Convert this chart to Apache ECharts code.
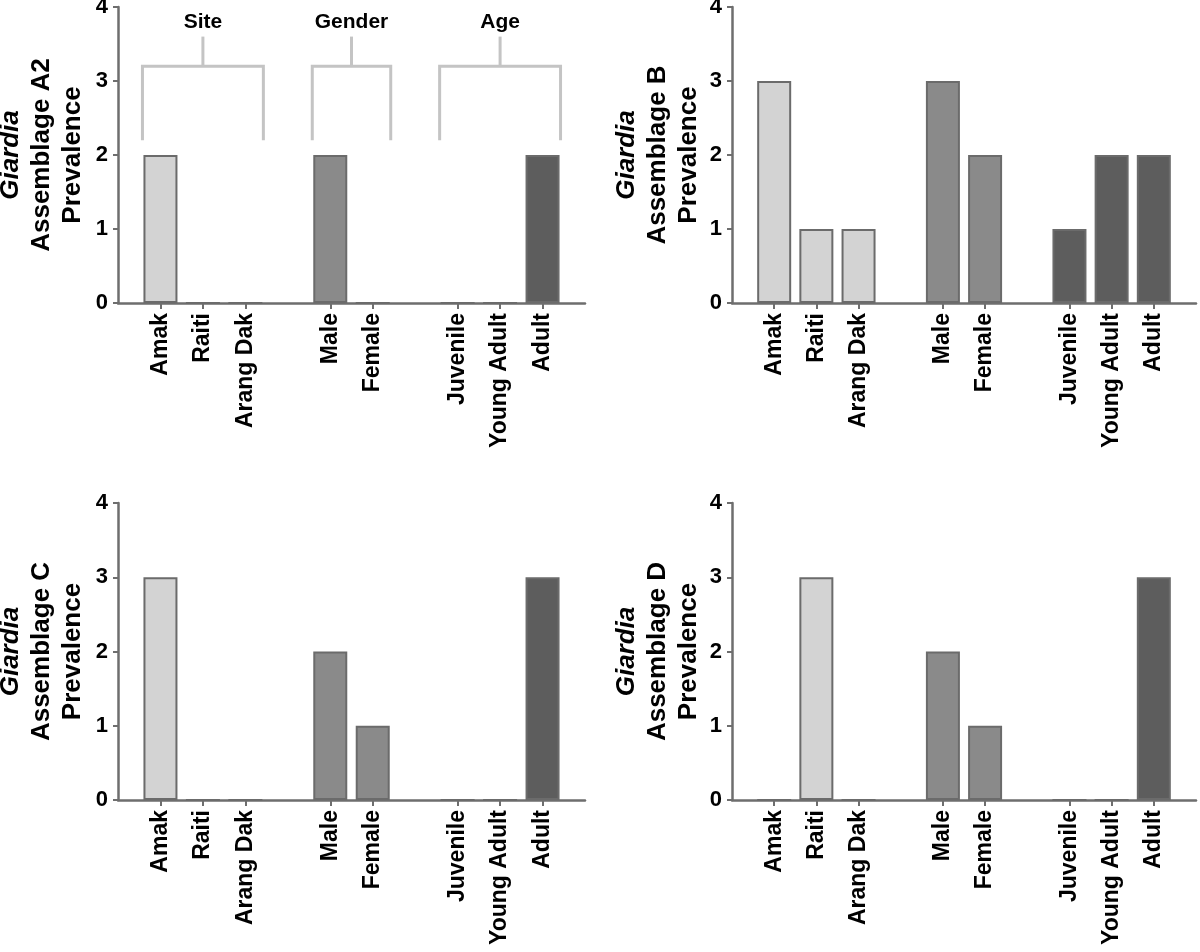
<!DOCTYPE html>
<html>
<head>
<meta charset="utf-8">
<script src="https://cdn.jsdelivr.net/npm/echarts@6/dist/echarts.min.js"></script>
<style>
  html, body { margin: 0; padding: 0; background: #fff; }
  #chart { width: 1200px; height: 952px; }
</style>
</head>
<body>
<div id="chart"></div>
<script>
// categories and the group each one belongs to
const categories = ['Amak', 'Raiti', 'Arang Dak', 'Male', 'Female', 'Juvenile', 'Young Adult', 'Adult'];
const groups = ['Site', 'Site', 'Site', 'Gender', 'Gender', 'Age', 'Age', 'Age'];
const groupNames = ['Site', 'Gender', 'Age'];

// prevalence per assemblage
const assemblageA2 = [2, 0, 0, 2, 0, 0, 0, 2];
const assemblageB = [3, 1, 1, 3, 2, 1, 2, 2];
const assemblageC = [3, 0, 0, 2, 1, 0, 0, 3];
const assemblageD = [0, 3, 0, 2, 1, 0, 0, 3];

const yTicks = [0, 1, 2, 3, 4];

const groupColors = { Site: '#d3d3d3', Gender: '#8a8a8a', Age: '#5d5d5d' };
const font = '"Liberation Sans", Arial, Helvetica, sans-serif';
const axisColor = '#6e6e6e';
const barW = 34;

// slots on the axis: a blank slot before, between groups, and after
const slots = [];
const slotIndex = [];
let blank = '';
slots.push(blank);
categories.forEach((c, i) => {
  if (i > 0 && groups[i] !== groups[i - 1]) {
    blank += ' ';
    slots.push(blank);
  }
  slotIndex.push(slots.length);
  slots.push(c);
});
blank += ' ';
slots.push(blank);

function slotData(values) {
  const out = slots.map(() => null);
  values.forEach((v, i) => {
    out[slotIndex[i]] = {
      value: v,
      itemStyle: { color: groupColors[groups[i]] }
    };
  });
  return out;
}

// bracket spans: first and last slot of each group
const bracketData = groupNames.map(g => {
  const idx = categories.map((c, i) => i).filter(i => groups[i] === g).map(i => slotIndex[i]);
  return [idx[0], idx[idx.length - 1]];
});

const panels = [
  { name: 'A2', values: assemblageA2, left: 118, top: 7, width: 467, height: 296, gap: 30 },
  { name: 'B', values: assemblageB, left: 732, top: 7, width: 464, height: 296, gap: 28 },
  { name: 'C', values: assemblageC, left: 118, top: 503, width: 467, height: 297, gap: 30 },
  { name: 'D', values: assemblageD, left: 732, top: 503, width: 464, height: 297, gap: 28 }
];

const grid = [], xAxis = [], yAxis = [], series = [];

panels.forEach((p, k) => {
  grid.push({
    left: p.left, top: p.top, width: p.width, height: p.height,
    containLabel: false,
    outerBoundsMode: 'none'
  });
  xAxis.push({
    type: 'category',
    gridIndex: k,
    data: slots,
    boundaryGap: false,
    axisLine: { lineStyle: { color: axisColor, width: 2.5 } },
    axisTick: {
      length: 6,
      interval: (i, v) => v.trim() !== '',
      lineStyle: { color: axisColor, width: 2 }
    },
    axisLabel: {
      interval: 0,
      rotate: 90,
      margin: 10,
      fontFamily: font,
      fontWeight: 'bold',
      fontSize: 23,
      color: '#000'
    },
    splitLine: { show: false }
  });
  yAxis.push({
    type: 'value',
    gridIndex: k,
    min: yTicks[0],
    max: yTicks[yTicks.length - 1],
    interval: 1,
    name: '{it|Giardia}\n{n|Assemblage ' + p.name + '}\n{n|Prevalence}',
    nameLocation: 'middle',
    nameGap: p.gap,
    nameTextStyle: {
      rich: {
        it: { fontFamily: font, fontStyle: 'italic', fontWeight: 'bold', fontSize: 26, lineHeight: 31, color: '#000' },
        n: { fontFamily: font, fontWeight: 'bold', fontSize: 26, lineHeight: 31, color: '#000' }
      }
    },
    axisLine: { show: true, lineStyle: { color: axisColor, width: 2.5 } },
    axisTick: { show: true, length: 5, lineStyle: { color: axisColor, width: 2 } },
    axisLabel: { margin: 10, fontFamily: font, fontWeight: 'bold', fontSize: 22, color: '#000' },
    splitLine: { show: false }
  });
  series.push({
    type: 'bar',
    xAxisIndex: k,
    yAxisIndex: k,
    barWidth: barW,
    data: slotData(p.values),
    itemStyle: { borderColor: '#6b6b6b', borderWidth: 2 },
    emphasis: { disabled: true },
    silent: true,
    animation: false
  });
});

// group brackets on the first panel
series.push({
  type: 'custom',
  xAxisIndex: 0,
  yAxisIndex: 0,
  clip: false,
  silent: true,
  animation: false,
  data: bracketData,
  renderItem: function (params, api) {
    const a = api.coord([api.value(0), 3.2]);
    const b = api.coord([api.value(1), 3.2]);
    const x0 = a[0] - barW / 2 - 1;
    const x1 = b[0] + barW / 2 + 1;
    const yBar = a[1];
    const yLow = api.coord([api.value(0), 2.2])[1];
    const yStem = api.coord([api.value(0), 3.6])[1];
    const yText = api.coord([api.value(0), 3.8])[1];
    const xm = (x0 + x1) / 2;
    const line = { stroke: '#c4c4c4', lineWidth: 3, fill: null };
    return {
      type: 'group',
      children: [
        { type: 'polyline', shape: { points: [[x0, yLow], [x0, yBar], [x1, yBar], [x1, yLow]] }, style: line },
        { type: 'line', shape: { x1: xm, y1: yBar, x2: xm, y2: yStem }, style: line },
        {
          type: 'text',
          style: {
            text: groupNames[params.dataIndex],
            x: xm,
            y: yText,
            align: 'center',
            verticalAlign: 'middle',
            font: 'bold 21px ' + font,
            fill: '#000'
          }
        }
      ]
    };
  }
});

const chart = echarts.init(document.getElementById('chart'), null, { renderer: 'canvas' });
chart.setOption({
  backgroundColor: '#fff',
  animation: false,
  grid: grid,
  xAxis: xAxis,
  yAxis: yAxis,
  series: series
});
</script>
</body>
</html>
